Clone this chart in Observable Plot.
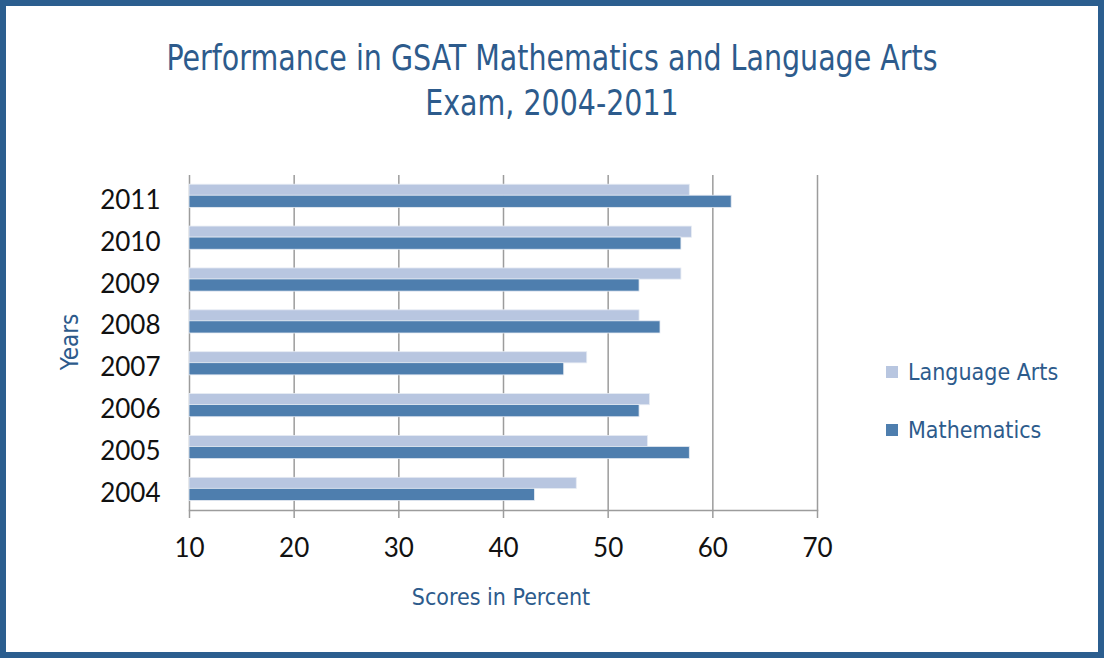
<!DOCTYPE html>
<html>
<head>
<meta charset="utf-8">
<script src="https://cdn.jsdelivr.net/npm/d3@7"></script>
<script src="https://cdn.jsdelivr.net/npm/@observablehq/plot@0.6"></script>
<style>
  html, body { margin: 0; padding: 0; background: #fff; }
  #chart { position: relative; width: 1104px; height: 658px; background: #fff; overflow: hidden; }
  #border { position: absolute; left: 0; top: 0; width: 1104px; height: 658px; box-sizing: border-box; border: 6px solid #2b5e8f; pointer-events: none; }
  #plot { position: absolute; left: 0; top: 0; }
  .t { position: absolute; color: #2d5b8c; font-family: "DejaVu Sans Condensed", "DejaVu Sans", sans-serif; font-stretch: condensed; white-space: nowrap; }
  #title { left: 0; width: 1104px; top: 36px; text-align: center; font-size: 35px; line-height: 45px; transform: scaleX(0.905); transform-origin: 552px 0; }
  #xlabel { left: 0; width: 1002px; top: 584px; text-align: center; font-size: 23px; }
  #ylabel { left: 70px; top: 342px; font-size: 24px; transform: translate(-50%, -50%) rotate(-90deg); }
  .leg { position: absolute; left: 886px; font-size: 23px; color: #2d5b8c; font-family: "DejaVu Sans Condensed", "DejaVu Sans", sans-serif; font-stretch: condensed; white-space: nowrap; }
  .sw { display: inline-block; width: 12px; height: 12px; margin-right: 10px; vertical-align: 2px; }
</style>
</head>
<body>
<div id="chart">
  <div id="plot"></div>
  <div id="title" class="t">Performance in GSAT Mathematics and Language Arts<br>Exam, 2004-2011</div>
  <div id="xlabel" class="t">Scores in Percent</div>
  <div id="ylabel" class="t">Years</div>
  <div id="legend"></div>
  <div id="border"></div>
</div>
<script>
const years = ["2004", "2005", "2006", "2007", "2008", "2009", "2010", "2011"];
const languageArts = [47, 53.8, 54, 48, 53, 57, 58, 57.8];
const mathematics = [43, 57.8, 53, 45.8, 55, 53, 57, 61.8];
const seriesNames = ["Language Arts", "Mathematics"];
const seriesColors = ["#b8c6e0", "#4e7eae"];
const xTicks = [10, 20, 30, 40, 50, 60, 70];

const laData = years.map((yr, i) => ({year: yr, series: seriesNames[0], value: languageArts[i]}));
const mathData = years.map((yr, i) => ({year: yr, series: seriesNames[1], value: mathematics[i]}));

const chart = Plot.plot({
  width: 1104,
  height: 658,
  marginTop: 175,
  marginBottom: 148,
  marginLeft: 189,
  marginRight: 287,
  style: {fontFamily: "Lato, 'Open Sans', sans-serif", fontSize: "26px", background: "transparent", color: "#111"},
  x: {domain: [10, 70]},
  y: {domain: years.slice().reverse(), padding: 0, round: false},
  color: {domain: seriesNames, range: seriesColors},
  marks: [
    Plot.ruleX(xTicks, {stroke: "#9c9c9c", strokeWidth: 1.5}),
    Plot.frame({anchor: "bottom", stroke: "#9c9c9c", strokeWidth: 1.5}),
    Plot.barX(laData, {y: "year", x1: 10, x2: "value", fill: "series", insetTop: 9.2, insetBottom: 21.5, stroke: "#e6ebf3", strokeWidth: 0.8}),
    Plot.barX(mathData, {y: "year", x1: 10, x2: "value", fill: "series", insetTop: 20.2, insetBottom: 9.5, stroke: "#e6ebf3", strokeWidth: 0.8}),
    Plot.axisX(xTicks, {anchor: "bottom", tickSize: 8, tickPadding: 20, stroke: "#9c9c9c", strokeWidth: 1.5, fill: "#111", fontSize: 26, label: null}),
    Plot.axisY({anchor: "left", tickSize: 0, tickPadding: 29, dy: 4, fontSize: 26, fill: "#111", label: null})
  ]
});
document.getElementById("plot").appendChild(chart);

const legend = document.getElementById("legend");
seriesNames.forEach((name, i) => {
  const d = document.createElement("div");
  d.className = "leg";
  d.style.top = (359 + i * 58) + "px";
  d.innerHTML = `<span class="sw" style="background:${seriesColors[i]}"></span>${name}`;
  legend.appendChild(d);
});
</script>
</body>
</html>
